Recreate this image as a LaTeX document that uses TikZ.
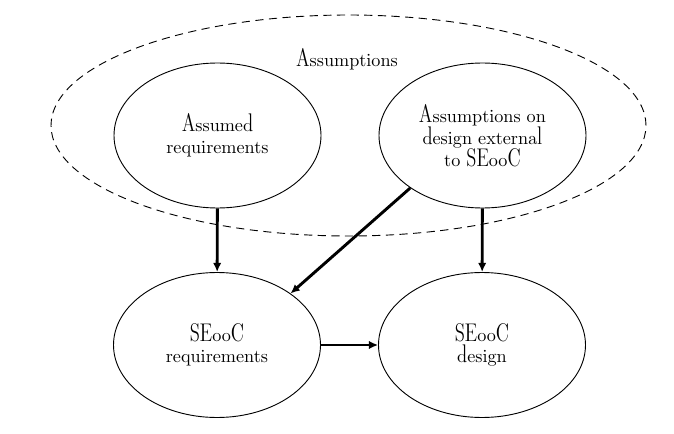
\documentclass[tikz,border=0pt]{standalone}
\usepackage[OT1]{fontenc}
\renewcommand\rmdefault{cmdh}
\usetikzlibrary{shapes.geometric,arrows.meta}
\begin{document}
\begin{tikzpicture}[x=0.55pt,y=-0.55pt,
  ell/.style={draw,ellipse,line width=0.5pt,inner sep=0pt,minimum width=207*0.55pt,minimum height=145*0.55pt,align=center,font=\normalsize},
  outer/.style={draw,ellipse,line width=0.5pt,dash pattern=on 4.5pt off 3pt,inner sep=0pt,minimum width=595*0.55pt,minimum height=221*0.55pt},
  arr/.style={line width=1.6pt,-{Latex[length=5pt,width=4.6pt]}}]
\useasboundingbox (0,0) rectangle (674,434);
\node[outer] (grp) at (348.5,125.5) {};
\node (lbl) at (347,60) {Assumptions};
\node[ell] (ar) at (217.5,135.5) {Assumed\\requirements};
\node[ell] (ad) at (482.5,135.5) {Assumptions on\\design external\\to SEooC};
\node[ell] (sr) at (217,345) {SEooC\\requirements};
\node[ell] (sd) at (482,345) {SEooC\\design};
\draw[arr] (ar) -- (sr);
\draw[arr] (ad) -- (sd);
\draw[arr] (ad.216) -- (sr.35);
\draw[arr] (sr) -- (sd);
\end{tikzpicture}
\end{document}
